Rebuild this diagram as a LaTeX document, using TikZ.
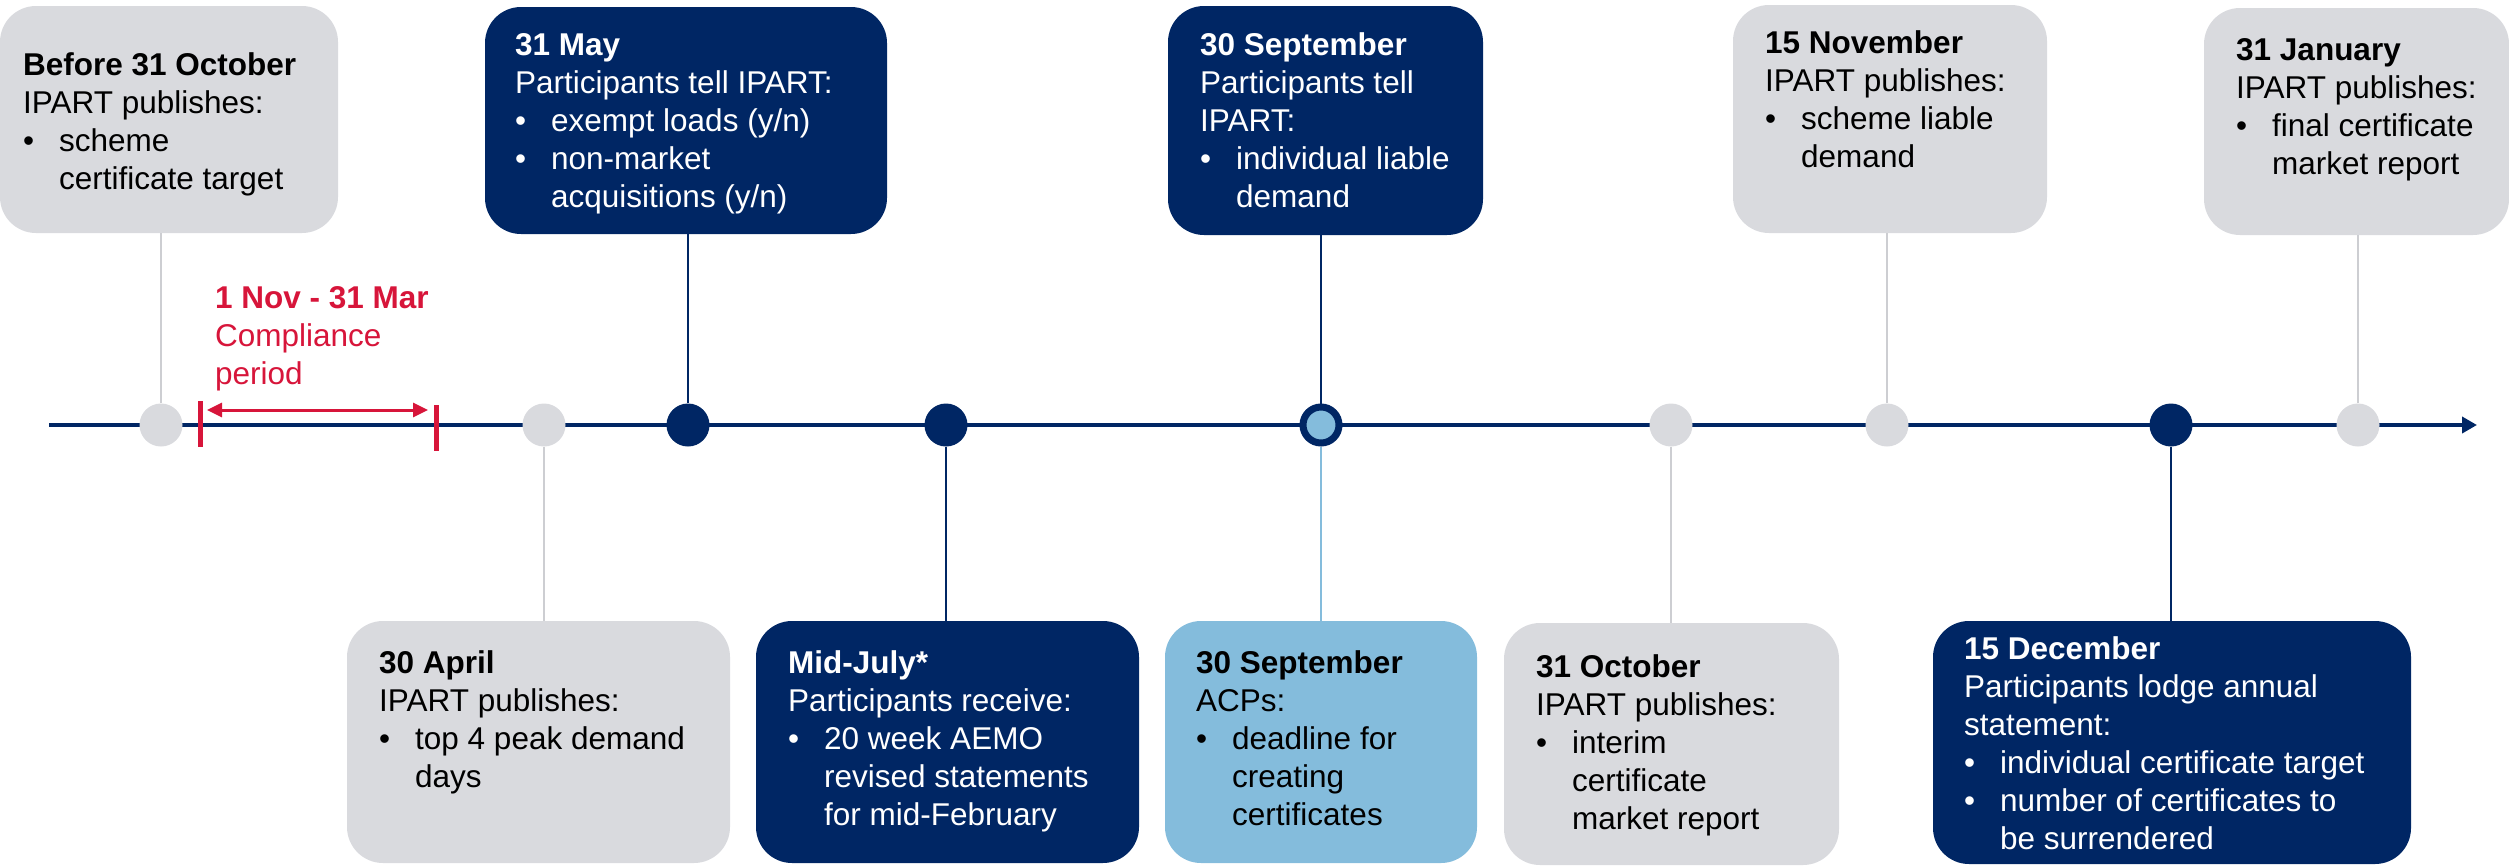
\documentclass[tikz,border=0pt]{standalone}
\usepackage{fontspec}
\setmainfont{Liberation Sans}
\usetikzlibrary{arrows.meta}
\definecolor{navy}{RGB}{0,38,100}
\definecolor{lgrey}{RGB}{217,218,222}
\definecolor{lgreyline}{RGB}{205,206,210}
\definecolor{lblue}{RGB}{132,188,220}
\definecolor{nswred}{RGB}{215,21,58}
\newcommand{\hd}[1]{\rule{0pt}{24pt}\textbf{#1}}
\newcommand{\bul}{\makebox[36pt][l]{\textbullet}}
\newcommand{\cnt}{\hspace*{36pt}}
\begin{document}
\begin{tikzpicture}[x=1pt, y=-1pt,
  box/.style={shape=rectangle, rounded corners=36pt, inner sep=0pt, outer sep=0pt, anchor=north west},
  gbox/.style={box, fill=lgrey},
  nbox/.style={box, fill=navy},
  lbox/.style={box, fill=lblue},
  txt/.style={anchor=north west, inner sep=0pt, align=left, font=\fontsize{31.5}{38}\selectfont},
  wtxt/.style={txt, text=white},
  dot/.style={shape=circle, inner sep=0pt, minimum size=43pt},
  gdot/.style={dot, fill=lgrey},
  ndot/.style={dot, fill=navy},
  rdot/.style={dot, minimum size=36pt, fill=lblue, draw=navy, line width=7pt},
  glink/.style={draw=lgreyline, line width=1.5pt},
  nlink/.style={draw=navy, line width=1.5pt},
  blink/.style={draw=lblue, line width=1.5pt},
]
\useasboundingbox (0,0) rectangle (2509,865);

%timeline
\coordinate (t0) at (49,425);
\coordinate (t1) at (2477,425);
\draw[navy, line width=4pt, -{Triangle[length=15pt,width=16pt]}] (t0) -- (t1);

\draw
node (d1) at (161,425) [gdot] {}
node (d2) at (544,425) [gdot] {}
node (d3) at (688,425) [ndot] {}
node (d4) at (946,425) [ndot] {}
node (d5) at (1321,425) [rdot] {}
node (d6) at (1671,425) [gdot] {}
node (d7) at (1887,425) [gdot] {}
node (d8) at (2171,425) [ndot] {}
node (d9) at (2358,425) [gdot] {};

%boxes above
\node[gbox, minimum width=338pt, minimum height=227pt] (b1) at (0,6) {};
\node[txt] (x1) at (23,51) {\hd{Before 31 October}\\IPART publishes:\\\bul scheme\\\cnt certificate target};

\node[nbox, minimum width=402pt, minimum height=227pt] (b2) at (485,7) {};
\node[wtxt] (x2) at (515,31) {\hd{31 May}\\Participants tell IPART:\\\bul exempt loads (y/n)\\\bul non-market\\\cnt acquisitions (y/n)};

\node[nbox, minimum width=315pt, minimum height=229pt] (b3) at (1168,6) {};
\node[wtxt] (x3) at (1200,31) {\hd{30 September}\\Participants tell\\IPART:\\\bul individual liable\\\cnt demand};

\node[gbox, minimum width=314pt, minimum height=228pt] (b4) at (1733,5) {};
\node[txt] (x4) at (1765,29) {\hd{15 November}\\IPART publishes:\\\bul scheme liable\\\cnt demand};

\node[gbox, minimum width=305pt, minimum height=227pt] (b5) at (2204,8) {};
\node[txt] (x5) at (2236,36) {\hd{31 January}\\IPART publishes:\\\bul final certificate\\\cnt market report};

%boxes below
\node[gbox, minimum width=383pt, minimum height=242pt] (b6) at (347,621) {};
\node[txt] (x6) at (379,649) {\hd{30 April}\\IPART publishes:\\\bul top 4 peak demand\\\cnt days};

\node[nbox, minimum width=383pt, minimum height=242pt] (b7) at (756,621) {};
\node[wtxt] (x7) at (788,649) {\hd{Mid-July*}\\Participants receive:\\\bul 20 week AEMO\\\cnt revised statements\\\cnt for mid-February};

\node[lbox, minimum width=312pt, minimum height=242pt] (b8) at (1165,621) {};
\node[txt] (x8) at (1196,649) {\hd{30 September}\\ACPs:\\\bul deadline for\\\cnt creating\\\cnt certificates};

\node[gbox, minimum width=335pt, minimum height=242pt] (b9) at (1504,623) {};
\node[txt] (x9) at (1536,653) {\hd{31 October}\\IPART publishes:\\\bul interim\\\cnt certificate\\\cnt market report};

\node[nbox, minimum width=478pt, minimum height=243pt] (b10) at (1933,621) {};
\node[wtxt] (x10) at (1964,635) {\hd{15 December}\\Participants lodge annual\\statement:\\\bul individual certificate target\\\bul number of certificates to\\\cnt be surrendered};

%links
\draw[glink] (d1) -- (d1 |- b1.south);
\draw[nlink] (d3) -- (d3 |- b2.south);
\draw[nlink] (d5) -- (d5 |- b3.south);
\draw[glink] (d7) -- (d7 |- b4.south);
\draw[glink] (d9) -- (d9 |- b5.south);
\draw[glink] (d2) -- (d2 |- b6.north);
\draw[nlink] (d4) -- (d4 |- b7.north);
\draw[blink] (d5) -- (d5 |- b8.north);
\draw[glink] (d6) -- (d6 |- b9.north);
\draw[nlink] (d8) -- (d8 |- b10.north);

%compliance period
\coordinate (r0) at (200,401);
\coordinate (r1) at (200,447);
\coordinate (r2) at (436,405);
\coordinate (r3) at (436,451);
\draw[nswred, line width=5pt] (r0) -- (r1);
\draw[nswred, line width=5pt] (r2) -- (r3);
\coordinate (a0) at (207,410);
\coordinate (a1) at (428,410);
\draw[nswred, line width=3pt, {Triangle[length=15pt,width=14pt]}-{Triangle[length=15pt,width=14pt]}] (a0) -- (a1);
\node[txt, text=nswred] (cp) at (215,284) {\hd{1 Nov - 31 Mar}\\Compliance\\period};

\end{tikzpicture}
\end{document}
